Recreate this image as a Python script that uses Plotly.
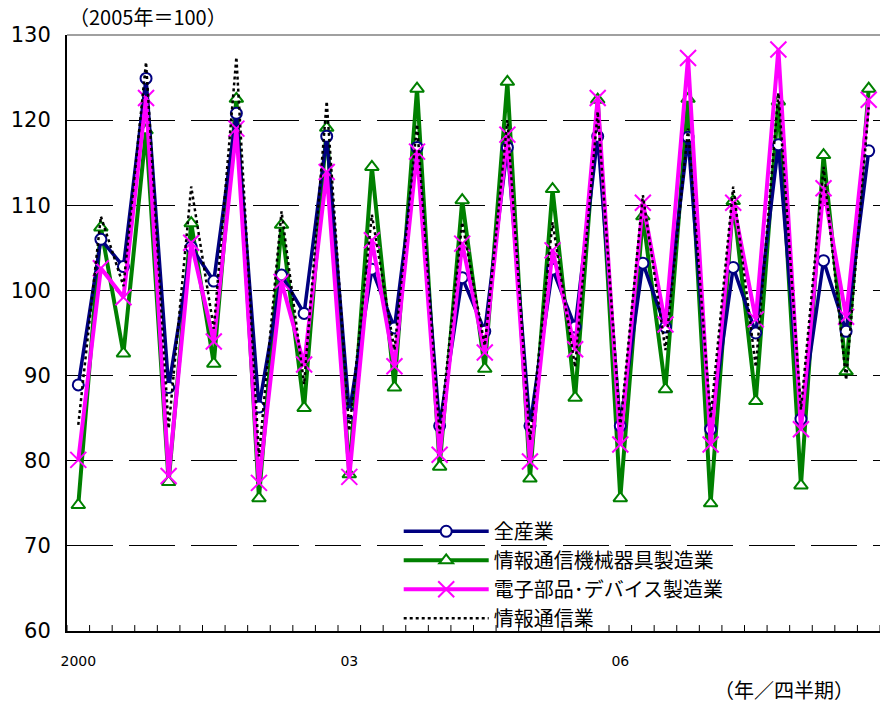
import plotly.graph_objects as go

FONT = "Noto Sans CJK JP"
NUM_FONT = "DejaVu Sans"

# 2000Q1 .. 2008Q4
quarters = [f"{y}Q{q}" for y in range(2000, 2009) for q in range(1, 5)]
tick_text = ["2000" if i == 0 else "03" if i == 12 else "06" if i == 24 else "" for i in range(len(quarters))]

all_industries = [88.9, 106.0, 102.8, 124.9, 88.6, 105.1, 101.1, 120.8, 86.3, 101.8, 97.3, 118.1,
                  85.6, 102.5, 95.6, 116.8, 84.1, 101.5, 95.2, 116.8, 84.1, 102.5, 95.7, 118.1,
                  84.1, 103.2, 95.7, 118.0, 83.7, 102.7, 95.0, 117.1, 84.9, 103.5, 95.2, 116.4]
ict_equipment = [74.8, 107.4, 92.6, 118.8, 77.5, 107.9, 91.4, 122.5, 75.6, 107.7, 86.2, 119.1,
                 78.4, 114.5, 88.6, 123.7, 79.3, 110.6, 90.8, 124.5, 77.9, 111.9, 87.4, 122.4,
                 75.6, 108.7, 88.4, 122.5, 75.0, 110.5, 87.0, 122.2, 77.1, 115.9, 90.5, 123.7]
electronic_parts = [80.1, 102.6, 99.2, 122.6, 78.2, 105.6, 94.0, 119.0, 77.4, 101.0, 91.3, 113.9,
                    78.1, 105.9, 91.1, 116.3, 80.7, 105.5, 92.7, 118.3, 79.9, 104.7, 93.1, 122.6,
                    81.9, 110.3, 96.0, 127.3, 81.9, 110.3, 96.6, 128.3, 83.7, 112.0, 96.9, 122.4]
info_comm = [84.2, 108.7, 100.5, 126.8, 83.8, 112.2, 95.5, 127.4, 80.5, 109.3, 89.0, 122.2,
             83.5, 108.9, 93.0, 119.5, 83.2, 108.0, 93.5, 120.0, 82.4, 108.0, 91.0, 121.0,
             84.0, 111.2, 93.0, 119.0, 85.0, 112.2, 91.0, 123.2, 86.0, 114.5, 89.5, 121.5]

fig = go.Figure()
fig.add_trace(go.Scatter(
    x=quarters, y=ict_equipment, name="情報通信機械器具製造業", legendrank=2,
    mode="lines+markers", line=dict(color="#008000", width=4),
    marker=dict(symbol="triangle-up", size=12, color="white", line=dict(color="#008000", width=2))
))
fig.add_trace(go.Scatter(
    x=quarters, y=all_industries, name="全産業", legendrank=1,
    mode="lines+markers", line=dict(color="#000080", width=3.5),
    marker=dict(symbol="circle", size=11, color="white", line=dict(color="#000080", width=2))
))
fig.add_trace(go.Scatter(
    x=quarters, y=electronic_parts, name="電子部品･デバイス製造業", legendrank=3,
    mode="lines+markers", line=dict(color="#FF00FF", width=4),
    marker=dict(symbol="x-thin-open", size=16, color="#FF00FF", line=dict(color="#FF00FF", width=2))
))
fig.add_trace(go.Scatter(
    x=quarters, y=info_comm, name="情報通信業", legendrank=4,
    mode="lines", line=dict(color="black", width=2.5, dash="dot")
))

n = len(quarters)
# top border + small quarter-boundary tick marks on the bottom axis
shapes = [dict(type="line", xref="paper", yref="paper", x0=0, x1=1, y0=1, y1=1,
               line=dict(color="#808080", width=1.5))]
for i in range(n + 1):
    shapes.append(dict(type="line", xref="x", yref="paper", x0=i - 0.5, x1=i - 0.5,
                       y0=0, y1=0.01, line=dict(color="black", width=1)))

fig.update_layout(
    width=881, height=703, template="plotly_white",
    plot_bgcolor="white", paper_bgcolor="white",
    font=dict(family=FONT, color="black", size=17),
    margin=dict(l=67, r=1, t=35, b=72, autoexpand=False),
    showlegend=True,
    legend=dict(x=0.408, y=0.2, xanchor="left", yanchor="top", bgcolor="rgba(0,0,0,0)",
                font=dict(size=20), itemwidth=85, tracegroupgap=0),
    annotations=[
        dict(text="（2005年＝100）", xref="paper", yref="paper", x=0.0, y=1.003,
             xanchor="left", yanchor="bottom", showarrow=False, font=dict(size=20)),
        dict(text="（年／四半期）", xref="paper", yref="paper", x=0.97, y=-0.07,
             xanchor="right", yanchor="top", showarrow=False, font=dict(size=20)),
    ],
    shapes=shapes,
)
fig.update_xaxes(
    type="category", range=[-0.5, n - 0.5], autorange=False,
    tickmode="array", tickvals=quarters, ticktext=tick_text, tickangle=0,
    ticks="", showgrid=False, showline=True, linecolor="black", linewidth=2,
    tickfont=dict(family=NUM_FONT, size=14), ticklabelstandoff=16, zeroline=False, automargin=False
)
fig.update_yaxes(
    range=[60, 130], dtick=10, showgrid=True, gridcolor="black", gridwidth=1,
    griddash="46px,16px", showline=True, linecolor="black", linewidth=2,
    ticks="", tickfont=dict(family=NUM_FONT, size=21), ticklabelstandoff=10,
    zeroline=False, automargin=False
)

fig.write_html("out.html", config={"displayModeBar": False},
               post_script="document.body.style.margin='0';")
